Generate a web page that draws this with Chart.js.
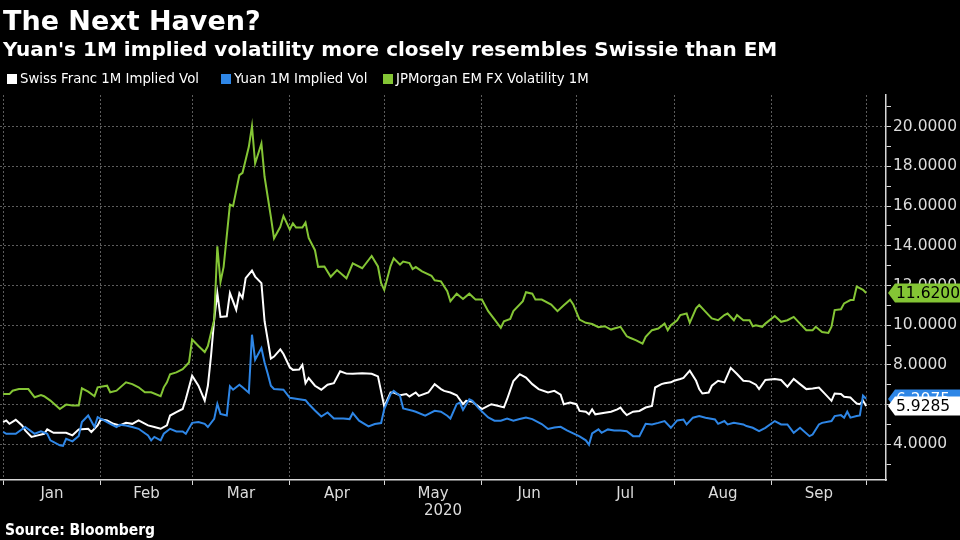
<!DOCTYPE html>
<html><head><meta charset="utf-8">
<script src="https://cdn.jsdelivr.net/npm/chart.js@4.4.1/dist/chart.umd.min.js"></script>
<style>
html,body{margin:0;padding:0;background:#000;width:960px;height:540px;overflow:hidden;}
#wrap{position:relative;width:960px;height:540px;background:#000;}
#c{position:absolute;left:0;top:0;}
.t{position:absolute;color:#fff;white-space:nowrap;margin:0;line-height:1;}
#title{left:3px;top:5px;font:bold 27px "DejaVu Sans";}
#sub{left:3px;top:37px;font:bold 20px "DejaVu Sans";}
#legend{position:absolute;left:0;top:71px;height:16px;width:960px;}
.leg{position:absolute;top:0;font:13.3px "DejaVu Sans";color:#fff;white-space:nowrap;line-height:16px;}
.leg i{display:inline-block;width:10px;height:10px;margin-right:3px;vertical-align:-1px;}
#src{left:5px;top:521px;font:bold 15.5px "DejaVu Sans Condensed","DejaVu Sans";font-stretch:condensed;}
</style></head>
<body>
<div id="wrap">
<canvas id="c" width="960" height="540"></canvas>
<div class="t" id="title">The Next Haven?</div>
<div class="t" id="sub">Yuan's 1M implied volatility more closely resembles Swissie than EM</div>
<div id="legend"></div>
<div class="t" id="src">Source: Bloomberg</div>
</div>
<script>
// Series names and colours
const seriesNames = ['Swiss Franc 1M Implied Vol', 'Yuan 1M Implied Vol', 'JPMorgan EM FX Volatility 1M'];
const seriesColors = ['#ffffff', '#2e86e6', '#84c535'];
const tagTextColors = ['#000000', '#ffffff', '#000000'];
const legendLeft = [7, 221, 383];

// X-axis: months of 2020 (day numbers since 2020-01-01)
const monthNames = ['Jan', 'Feb', 'Mar', 'Apr', 'May', 'Jun', 'Jul', 'Aug', 'Sep'];
const monthStartDays = [0, 31, 60, 91, 121, 152, 182, 213, 244, 274];
const yearLabel = '2020';

// Y-axis ticks
const yTickValues = [3,4,5,6,7,8,9,10,11,12,13,14,15,16,17,18,19,20,21];

// [day since 2020-01-01, value]
const swissFranc = [[0,5.12],[1,5.2],[2,5.03],[4,5.23],[6,4.95],[7,4.7],[9,4.37],[11,4.45],[13,4.53],[14,4.75],[16,4.58],[18,4.58],[20,4.58],[22,4.45],[24,4.75],[27,4.78],[28,4.62],[30,4.95],[31,5.25],[33,5.2],[35,5.03],[37,4.95],[39,5.08],[41,5.03],[43,5.2],[46,4.95],[48,4.87],[50,4.78],[52,4.95],[53,5.45],[55,5.62],[57,5.78],[58,6.28],[60,7.45],[62,6.95],[64,6.2],[65,6.95],[66,8.45],[67,10.28],[68,11.62],[69,10.42],[71,10.45],[72,11.62],[74,10.78],[75,11.62],[76,11.37],[77,12.37],[79,12.75],[80,12.45],[82,12.12],[83,10.2],[85,8.32],[86,8.42],[88,8.78],[89,8.55],[91,7.88],[92,7.75],[94,7.77],[95,8.0],[96,7.08],[97,7.34],[99,6.95],[101,6.75],[103,7.0],[105,7.08],[107,7.68],[109,7.56],[111,7.55],[114,7.58],[117,7.55],[119,7.42],[121,5.9],[123,6.61],[124,6.61],[126,6.47],[128,6.53],[129,6.41],[131,6.61],[132,6.44],[135,6.61],[137,7.03],[139,6.78],[140,6.69],[142,6.61],[144,6.47],[146,6.02],[147,6.19],[149,6.14],[150,6.02],[152,5.77],[155,6.02],[157,5.94],[159,5.86],[160,6.27],[162,7.19],[164,7.53],[166,7.36],[168,7.03],[170,6.78],[173,6.61],[175,6.69],[177,6.5],[178,6.02],[180,6.1],[182,6.02],[183,5.68],[185,5.64],[186,5.51],[187,5.76],[188,5.51],[191,5.59],[193,5.64],[195,5.76],[196,5.85],[197,5.64],[198,5.47],[200,5.64],[202,5.68],[204,5.85],[206,5.93],[207,6.86],[209,7.03],[210,7.07],[212,7.12],[213,7.2],[215,7.29],[216,7.34],[218,7.71],[220,7.2],[221,6.78],[222,6.56],[224,6.61],[225,6.95],[227,7.2],[229,7.12],[231,7.85],[233,7.54],[235,7.2],[237,7.17],[239,7.0],[240,6.78],[242,7.24],[245,7.29],[247,7.24],[249,6.9],[251,7.29],[253,7.03],[255,6.78],[257,6.81],[259,6.86],[261,6.53],[263,6.19],[264,6.56],[266,6.53],[267,6.39],[269,6.36],[270,6.2],[271,6.05],[272,6.02],[273,6.2],[274,5.9285]];

const yuan = [[0,4.62],[1,4.53],[4,4.53],[7,4.87],[10,4.53],[12,4.65],[14,4.53],[15,4.2],[18,3.95],[19,3.92],[20,4.28],[22,4.15],[24,4.42],[25,5.12],[27,5.45],[29,4.87],[30,5.37],[32,5.2],[34,5.03],[36,4.87],[37,4.98],[39,4.95],[41,4.87],[43,4.78],[46,4.45],[47,4.2],[48,4.37],[50,4.2],[51,4.53],[53,4.78],[55,4.65],[57,4.65],[58,4.53],[60,5.08],[62,5.12],[64,5.03],[65,4.87],[67,5.28],[68,6.03],[69,5.53],[71,5.45],[72,6.92],[73,6.75],[75,7.0],[76,6.87],[78,6.6],[79,9.52],[80,8.26],[82,8.85],[83,8.12],[84,7.56],[85,6.95],[86,6.79],[89,6.75],[91,6.34],[94,6.27],[96,6.22],[97,6.03],[99,5.7],[101,5.4],[103,5.6],[105,5.3],[108,5.3],[110,5.27],[111,5.57],[113,5.19],[116,4.9],[118,5.02],[120,5.07],[121,5.77],[123,6.53],[124,6.69],[126,6.44],[127,5.81],[130,5.69],[131,5.64],[134,5.44],[137,5.69],[139,5.64],[141,5.44],[142,5.3],[144,6.02],[145,6.1],[146,5.74],[148,6.27],[149,6.19],[151,5.81],[154,5.35],[156,5.19],[158,5.19],[160,5.3],[162,5.19],[164,5.27],[166,5.35],[168,5.27],[171,5.02],[173,4.77],[175,4.85],[177,4.88],[179,4.7],[181,4.55],[183,4.4],[185,4.2],[186,3.98],[187,4.55],[189,4.75],[190,4.58],[192,4.75],[194,4.69],[196,4.69],[198,4.66],[200,4.41],[202,4.41],[204,5.03],[206,5.0],[208,5.08],[210,5.17],[212,4.83],[214,5.2],[216,5.25],[217,5.0],[219,5.34],[221,5.42],[223,5.34],[226,5.25],[227,5.03],[229,5.17],[230,5.0],[232,5.08],[235,5.0],[236,4.92],[238,4.83],[240,4.66],[242,4.83],[245,5.17],[247,5.0],[249,5.0],[251,4.58],[253,4.83],[256,4.41],[257,4.49],[259,5.0],[260,5.08],[263,5.17],[264,5.42],[266,5.47],[267,5.34],[268,5.64],[269,5.34],[271,5.42],[272,5.45],[273,6.45],[274,6.2975]];

const emFx = [[0,6.53],[2,6.53],[3,6.7],[5,6.78],[8,6.78],[10,6.37],[12,6.48],[13,6.42],[15,6.2],[18,5.78],[20,6.0],[22,5.95],[24,5.95],[25,6.82],[27,6.65],[29,6.42],[30,6.87],[33,6.95],[34,6.62],[36,6.7],[39,7.12],[41,7.03],[43,6.87],[45,6.62],[47,6.62],[50,6.42],[51,6.87],[52,7.12],[53,7.53],[55,7.62],[57,7.78],[59,8.12],[60,9.28],[62,8.95],[64,8.65],[65,8.95],[67,10.28],[68,13.98],[69,12.18],[70,12.94],[72,16.08],[73,16.0],[75,17.56],[76,17.68],[78,18.99],[79,20.03],[80,18.15],[82,19.16],[83,17.48],[85,15.46],[86,14.37],[88,14.96],[89,15.5],[91,14.82],[92,15.13],[93,14.92],[95,14.92],[96,15.17],[97,14.4],[99,13.78],[100,12.94],[102,12.96],[104,12.44],[106,12.78],[109,12.36],[111,13.12],[114,12.87],[117,13.49],[119,12.96],[120,12.12],[121,11.78],[123,12.98],[124,13.37],[126,13.05],[127,13.21],[129,13.13],[130,12.83],[131,12.93],[133,12.71],[136,12.49],[137,12.26],[139,12.21],[141,11.71],[142,11.21],[144,11.59],[146,11.32],[148,11.59],[150,11.29],[152,11.29],[154,10.71],[156,10.29],[158,9.87],[159,10.2],[161,10.32],[162,10.71],[165,11.21],[166,11.66],[168,11.59],[169,11.29],[171,11.29],[174,11.04],[176,10.71],[178,11.0],[180,11.28],[181,11.05],[183,10.28],[185,10.12],[187,10.06],[189,9.9],[191,9.95],[193,9.78],[194,9.83],[196,9.92],[198,9.44],[199,9.37],[201,9.24],[203,9.07],[204,9.41],[206,9.75],[208,9.83],[210,10.08],[211,9.75],[212,10.0],[214,10.25],[215,10.51],[217,10.59],[218,10.12],[220,10.85],[221,11.02],[222,10.85],[224,10.51],[225,10.34],[227,10.25],[229,10.51],[230,10.59],[232,10.25],[233,10.51],[235,10.25],[237,10.25],[238,9.95],[239,10.0],[241,9.92],[242,10.08],[245,10.46],[247,10.17],[249,10.25],[251,10.42],[253,10.08],[255,9.75],[257,9.75],[258,9.92],[260,9.66],[262,9.61],[263,9.92],[264,10.76],[266,10.8],[267,11.1],[269,11.27],[270,11.27],[271,11.95],[273,11.78],[274,11.62]];

const seriesData = [swissFranc, yuan, emFx];

// ---------- build ----------
const monthMids = monthNames.map((m, i) => (monthStartDays[i] + monthStartDays[i + 1]) / 2);
const startSet = new Set(monthStartDays);
const GRID = '#5c5c5c';
const AXIS = '#d8d8d8';
const TXT = '#dcdcdc';
const FONT = 'DejaVu Sans';

// HTML legend built from series names
const legend = document.getElementById('legend');
seriesNames.forEach((n, i) => {
  const d = document.createElement('div');
  d.className = 'leg';
  d.style.left = legendLeft[i] + 'px';
  d.innerHTML = '<i style="background:' + seriesColors[i] + '"></i>' + n;
  legend.appendChild(d);
});

const tagPlugin = {
  id: 'lastValueTags',
  afterDraw(chart) {
    const { ctx, scales } = chart;
    const y = scales.y;
    const x0 = y.left + 2;
    const x1 = 960;
    const h = 19;
    const order = [2, 1, 0];
    ctx.save();
    order.forEach(i => {
      const ds = chart.data.datasets[i];
      const last = ds.data[ds.data.length - 1].y;
      const py = Math.round(y.getPixelForValue(last));
      ctx.beginPath();
      ctx.moveTo(x0, py);
      ctx.lineTo(x0 + 7, py - h / 2);
      ctx.lineTo(x1, py - h / 2);
      ctx.lineTo(x1, py + h / 2);
      ctx.lineTo(x0 + 7, py + h / 2);
      ctx.closePath();
      ctx.fillStyle = seriesColors[i];
      ctx.fill();
      ctx.fillStyle = tagTextColors[i];
      ctx.font = '15.5px "' + FONT + '"';
      ctx.textBaseline = 'middle';
      ctx.textAlign = 'left';
      ctx.fillText(last.toFixed(4), x0 + 8, py + 1);
    });
    ctx.restore();
  }
};

Chart.defaults.font.family = FONT;

new Chart(document.getElementById('c'), {
  type: 'line',
  data: {
    datasets: seriesNames.map((n, i) => ({
      label: n,
      data: seriesData[i].map(p => ({ x: p[0], y: p[1] })),
      borderColor: seriesColors[i],
      backgroundColor: seriesColors[i],
      borderWidth: 2,
      pointRadius: 0,
      tension: 0,
      fill: false,
      order: 3 - i
    }))
  },
  options: {
    responsive: false,
    animation: false,
    events: [],
    layout: { padding: { left: 0, right: 0, top: 95, bottom: 20 } },
    plugins: { legend: { display: false }, tooltip: { enabled: false }, title: { display: false } },
    scales: {
      x: {
        type: 'linear',
        position: 'bottom',
        min: -1,
        max: 280.3,
        afterBuildTicks: s => {
          s.ticks = monthStartDays.map(v => ({ value: v }))
            .concat(monthMids.map(v => ({ value: v })))
            .sort((a, b) => a.value - b.value);
        },
        afterFit: s => { s.height = 40; },
        grid: {
          color: c => (c.tick && startSet.has(c.tick.value)) ? GRID : 'rgba(0,0,0,0)',
          tickColor: c => (c.tick && startSet.has(c.tick.value)) ? AXIS : 'rgba(0,0,0,0)',
          tickLength: 5,
          lineWidth: 1
        },
        border: { display: true, color: AXIS, width: 1.5, dash: [2, 2] },
        ticks: {
          autoSkip: false,
          maxRotation: 0,
          color: TXT,
          padding: 0,
          font: { size: 15 },
          callback: v => { const i = monthMids.indexOf(v); return i >= 0 ? monthNames[i] : ''; }
        },
        title: { display: true, text: yearLabel, color: TXT, font: { size: 15 }, padding: 0 }
      },
      y: {
        type: 'linear',
        position: 'right',
        min: 2.2,
        max: 21.6,
        afterBuildTicks: s => { s.ticks = yTickValues.map(v => ({ value: v })); },
        afterFit: s => { s.width = 74; },
        grid: {
          color: c => (c.tick && c.tick.value % 2 === 0) ? GRID : 'rgba(0,0,0,0)',
          tickColor: AXIS,
          tickLength: 5,
          lineWidth: 1
        },
        border: { display: true, color: AXIS, width: 1.5, dash: [2, 2] },
        ticks: {
          autoSkip: false,
          color: TXT,
          padding: 2,
          font: { size: 15.5 },
          callback: v => (v % 2 === 0) ? v.toFixed(4) : ''
        }
      }
    }
  },
  plugins: [tagPlugin]
});
</script>
</body></html>
